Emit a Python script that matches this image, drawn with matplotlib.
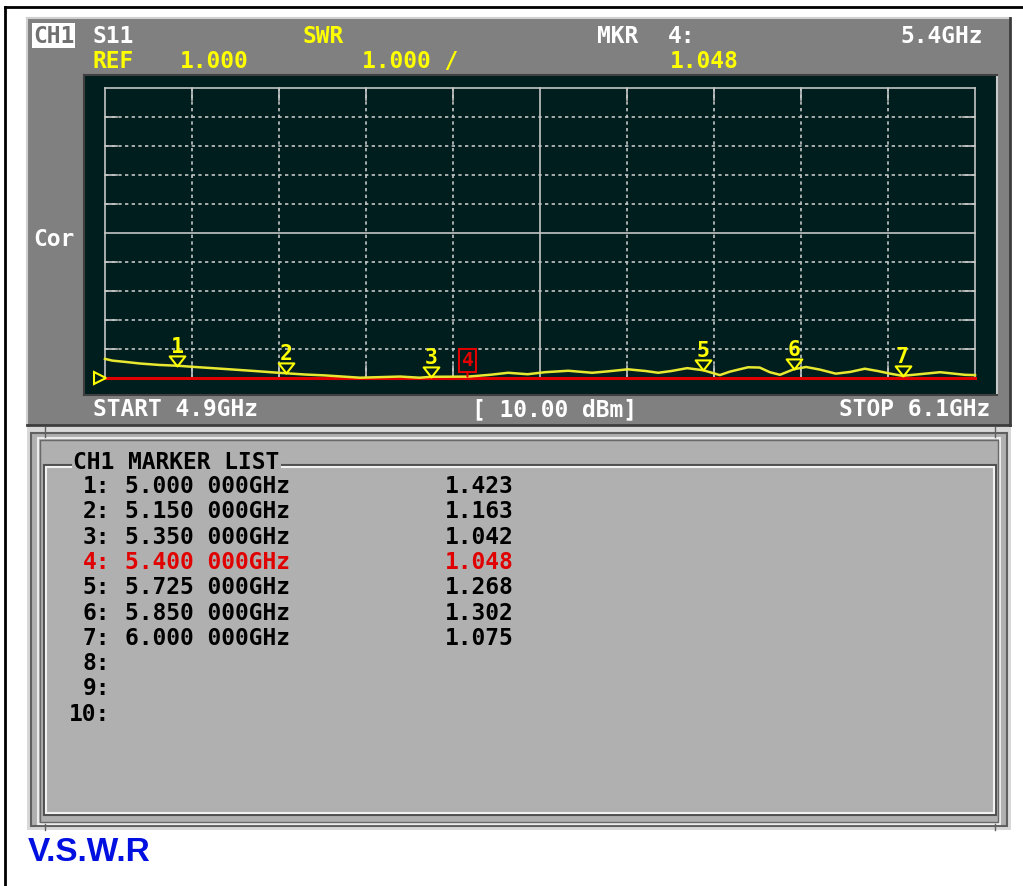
import matplotlib
matplotlib.use("Agg")
import matplotlib.pyplot as plt
from matplotlib.patches import Rectangle
from matplotlib.path import Path

# sweep / scale settings
f_start, f_stop = 4.9, 6.1
ref_val, per_div = 1.0, 1.0
n_div = 10

# S11 SWR trace
freq_ghz = [4.900, 4.910, 4.930, 4.948, 4.975, 5.000, 5.024, 5.066, 5.107, 5.134,
            5.150, 5.176, 5.203, 5.252, 5.307, 5.334, 5.350, 5.400, 5.431, 5.456,
            5.483, 5.507, 5.539, 5.572, 5.594, 5.621, 5.646, 5.663, 5.681, 5.703,
            5.725, 5.740, 5.748, 5.762, 5.787, 5.803, 5.817, 5.831, 5.850, 5.867,
            5.886, 5.908, 5.928, 5.948, 5.966, 5.983, 6.000, 6.015, 6.052, 6.086,
            6.100]
swr = [1.66, 1.60, 1.55, 1.50, 1.45, 1.423, 1.38, 1.31, 1.24, 1.19,
       1.163, 1.12, 1.09, 1.01, 1.05, 1.01, 1.042, 1.048, 1.11, 1.18,
       1.13, 1.20, 1.25, 1.18, 1.23, 1.30, 1.24, 1.18, 1.24, 1.34,
       1.268, 1.16, 1.10, 1.22, 1.37, 1.36, 1.20, 1.11, 1.302, 1.38,
       1.29, 1.15, 1.21, 1.32, 1.24, 1.15, 1.075, 1.11, 1.20, 1.11,
       1.10]

# markers
mkr_ids = [1, 2, 3, 4, 5, 6, 7]
mkr_freq = [5.000, 5.150, 5.350, 5.400, 5.725, 5.850, 6.000]
mkr_swr = [1.423, 1.163, 1.042, 1.048, 1.268, 1.302, 1.075]
active_mkr = 4
list_rows = 10

W, H = 1023, 886
MONO = "DejaVu Sans Mono"
YEL = "#ffff00"
TRACE = "#e8e830"
RED = "#e00000"
GRID = "#c4c4c4"

fig = plt.figure(figsize=(W / 100, H / 100), dpi=100)
fig.patch.set_facecolor("white")

# background axes in pixel units (y down)
bg = fig.add_axes([0, 0, 1, 1])
bg.set_xlim(0, W)
bg.set_ylim(H, 0)
bg.axis("off")

# outer black frame
bg.plot([5, W], [7, 7], color="black", lw=2)
bg.plot([5, 5], [7, H], color="black", lw=2)

# upper (trace) panel
bg.add_patch(Rectangle((27, 18), 984, 408, fc="#808080", ec="none"))
bg.plot([27, 1010], [18, 18], color="#d0d0d0", lw=1.5)
bg.plot([27, 27], [18, 425], color="#d0d0d0", lw=1.5)
bg.plot([1010, 1010], [18, 425], color="#3c3c3c", lw=2)
bg.plot([27, 1010], [425, 425], color="#3c3c3c", lw=2)

# lower (marker list) panel
bg.add_patch(Rectangle((27, 427), 984, 403, fc="#d8d8d8", ec="none"))
bg.add_patch(Rectangle((31, 433), 976, 393, fc="#b0b0b0", ec="#606060", lw=1.5))
bg.add_patch(Rectangle((38, 438), 962, 386, fc="none", ec="#ececec", lw=1.5))
bg.add_patch(Rectangle((40, 440), 958, 382, fc="none", ec="#686868", lw=1))
bg.add_patch(Rectangle((44, 465), 952, 350, fc="none", ec="#505050", lw=1.5))
bg.add_patch(Rectangle((46, 467), 948, 346, fc="none", ec="#f2f2f2", lw=1.5))
for xx in (45, 995):
    bg.plot([xx, xx], [427, 437], color="#606060", lw=1)
    bg.plot([xx, xx], [824, 830], color="#606060", lw=1)

# header texts
hdr = dict(family=MONO, weight="bold", fontsize=16.5, va="baseline")
bg.add_patch(Rectangle((32, 23), 43, 25, fc="white", ec="none"))
bg.text(53.5, 43, "CH1", color="#707070", ha="center", **hdr)
bg.text(92, 43, "S11", color="white", **hdr)
bg.text(303, 43, "SWR", color=YEL, **hdr)
bg.text(597, 43, "MKR", color="white", **hdr)
bg.text(668, 43, f"{active_mkr}:", color="white", **hdr)
bg.text(983, 43, f"{mkr_freq[mkr_ids.index(active_mkr)]:.1f}GHz", color="white", ha="right", **hdr)
bg.text(92, 68, "REF", color=YEL, **hdr)
bg.text(180, 68, f"{ref_val:.3f}", color=YEL, **hdr)
bg.text(362, 68, f"{per_div:.3f} /", color=YEL, **hdr)
bg.text(670, 68, f"{mkr_swr[mkr_ids.index(active_mkr)]:.3f}", color=YEL, **hdr)
bg.text(33, 246, "Cor", color="white", **hdr)
bg.text(93, 416, f"START {f_start:.1f}GHz", color="white", **hdr)
bg.text(472, 416, "[ 10.00 dBm]", color="white", **hdr)
bg.text(990, 416, f"STOP {f_stop:.1f}GHz", color="white", ha="right", **hdr)

# marker list
bg.text(73, 469, "CH1 MARKER LIST", color="black", **hdr,
        bbox=dict(fc="#b0b0b0", ec="none", pad=1))
for i in range(list_rows):
    yb = 493 + i * 25.3
    n = i + 1
    col = RED if n == active_mkr else "black"
    bg.text(110, yb, f"{n}:", color=col, ha="right", **hdr)
    if n in mkr_ids:
        k = mkr_ids.index(n)
        bg.text(125, yb, f"{mkr_freq[k]:.3f} 000GHz", color=col, **hdr)
        bg.text(445, yb, f"{mkr_swr[k]:.3f}", color=col, **hdr)

bg.text(28, 861, "V.S.W.R", color="#0010e0", fontsize=24, weight="bold",
        family=["Liberation Sans Narrow", "Liberation Sans", "DejaVu Sans"], va="baseline")

# trace axes: grid spans 105..975 px by 88..378 px
dx = (f_stop - f_start) / 870
dy = per_div / 29
ax = fig.add_axes([84 / W, 1 - 395 / H, 913 / W, 320 / H])
ax.set_facecolor("#001e1e")
ax.set_xlim(f_start - 21 * dx, f_stop + 22 * dx)
ax.set_ylim(ref_val - 17 * dy, ref_val + n_div * per_div + 13 * dy)
ax.set_xticks([])
ax.set_yticks([])
for s in ax.spines.values():
    s.set_color("#404040")
    s.set_linewidth(1.5)
ax.spines["right"].set_color("#c8c8c8")

fdiv = (f_stop - f_start) / n_div
y_top = ref_val + n_div * per_div
tick_x = 12 * dx
tick_y = 12 * dy
for i in range(n_div + 1):
    f = f_start + i * fdiv
    if i in (0, n_div // 2, n_div):
        ax.plot([f, f], [ref_val, y_top], color=GRID, lw=1.2)
    else:
        ax.plot([f, f], [ref_val, y_top], color=GRID, lw=1.2, ls=(0, (2, 2)))
        ax.plot([f, f], [ref_val, ref_val + tick_y], color=GRID, lw=1.2)
        ax.plot([f, f], [y_top - tick_y, y_top], color=GRID, lw=1.2)
for j in range(n_div + 1):
    y = ref_val + j * per_div
    if j in (0, n_div // 2, n_div):
        ax.plot([f_start, f_stop], [y, y], color=GRID, lw=1.2)
    else:
        ax.plot([f_start, f_stop], [y, y], color=GRID, lw=1.2, ls=(0, (2, 2)))
        ax.plot([f_start, f_start + tick_x], [y, y], color=GRID, lw=1.2)
        ax.plot([f_stop - tick_x, f_stop], [y, y], color=GRID, lw=1.2)

# reference line and reference pointer
ax.plot([f_start, f_stop], [ref_val, ref_val], color=RED, lw=2.2)
ax.plot([f_start - 4.5 * dx], [ref_val], marker=">", ms=8, mfc="none", mec=YEL, mew=1.5)

ax.plot(freq_ghz, swr, color=TRACE, lw=1.8)

# marker triangles (tip on the trace)
tri = Path([(-7, 9), (7, 9), (0, 0), (-7, 9)], [Path.MOVETO, Path.LINETO, Path.LINETO, Path.CLOSEPOLY])
for n, f, v in zip(mkr_ids, mkr_freq, mkr_swr):
    if n == active_mkr:
        ax.annotate(str(n), xy=(f, v), xytext=(0, 11.5), textcoords="offset points",
                    ha="center", va="center", color=RED, family=MONO, weight="bold", fontsize=14,
                    bbox=dict(boxstyle="square,pad=0.12", fc="none", ec=RED, lw=1.5),
                    arrowprops=dict(arrowstyle="-", color=RED, lw=1.5, shrinkA=0, shrinkB=0))
    else:
        ax.plot([f], [v], marker=tri, ms=14.5, mfc="none", mec=YEL, mew=1.5, ls="none")
        ax.annotate(str(n), xy=(f, v), xytext=(0, 9.5), textcoords="offset points",
                    ha="center", va="baseline", color=YEL, family=MONO, weight="bold", fontsize=15.5)

fig.savefig("out.png", dpi=100, facecolor=fig.get_facecolor())
